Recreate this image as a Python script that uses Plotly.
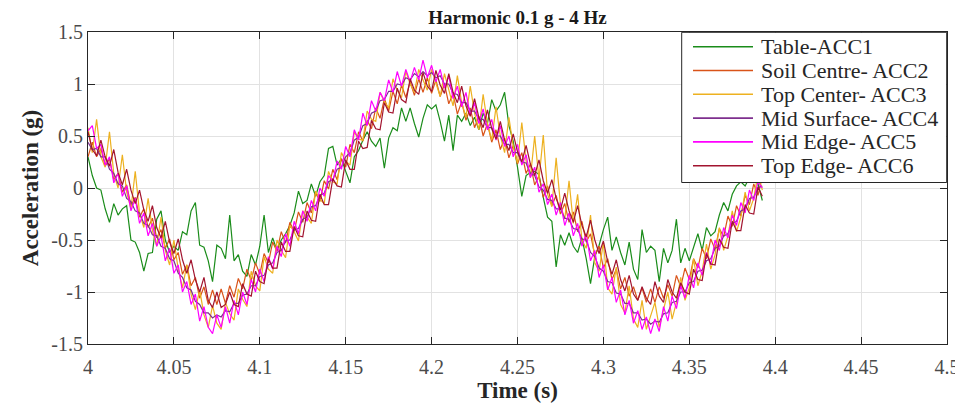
import plotly.graph_objects as go

# ---------------- data ----------------
T_START = 4.0
T_STEP = 0.0025  # sampling interval of the estimated readings (s)

acc1_table = [
    0.30, 0.12, 0.00, -0.02, -0.20, -0.33, -0.15, -0.26, -0.20, -0.17,
    -0.50, -0.52, -0.62, -0.80, -0.63, -0.62, -0.30, -0.22, -0.50, -0.62,
    -0.56, -0.60, -0.42, -0.45, -0.22, -0.14, -0.55, -0.57, -0.70, -0.90,
    -0.55, -0.58, -0.68, -0.26, -0.70, -0.64, -0.80, -0.85, -0.64, -0.74,
    -0.56, -0.26, -0.62, -0.48, -0.60, -0.50, -0.44, -0.36, -0.24, -0.03,
    -0.15, -0.12, 0.04, -0.08, 0.06, 0.12, 0.38, 0.40, 0.22, 0.28,
    0.16, 0.05, 0.30, 0.36, 0.46, 0.54, 0.45, 0.40, 0.48, 0.19,
    0.48, 0.58, 0.55, 0.77, 0.64, 0.77, 0.62, 0.49, 0.67, 0.80,
    0.76, 0.80, 0.64, 0.45, 0.70, 0.36, 0.70, 0.64, 0.72, 0.60,
    0.68, 0.56, 0.72, 0.62, 0.85, 0.74, 0.80, 0.92, 0.60, 0.45,
    0.20, -0.08, 0.12, 0.15, 0.16, 0.13, -0.09, -0.28, -0.32, -0.76,
    -0.45, -0.55, -0.43, -0.56, -0.62, -0.48, -0.68, -0.92, -0.66, -0.55,
    -0.40, -0.28, -0.60, -0.47, -0.62, -0.74, -0.52, -0.78, -0.88, -0.40,
    -0.62, -0.56, -0.60, -0.90, -0.58, -0.72, -0.60, -0.30, -0.72, -0.58,
    -0.70, -0.56, -0.44, -0.60, -0.38, -0.46, -0.42, -0.26, -0.14, -0.22,
    -0.06, 0.02, 0.06, 0.02, 0.10, 0.08, 0.04, -0.12,
]

acc2_soil_centre = [
    0.30, 0.44, 0.30, 0.38, 0.21, 0.28, 0.08, 0.14, -0.04, 0.03,
    -0.17, -0.09, -0.28, -0.20, -0.38, -0.29, -0.48, -0.40, -0.58, -0.49,
    -0.69, -0.62, -0.83, -0.74, -0.94, -0.86, -1.06, -0.95, -1.12, -0.98,
    -1.12, -0.97, -1.11, -0.94, -1.05, -0.87, -0.97, -0.78, -0.89, -0.72,
    -0.83, -0.63, -0.72, -0.52, -0.61, -0.42, -0.53, -0.33, -0.42, -0.23,
    -0.33, -0.14, -0.24, -0.04, -0.13, 0.07, -0.01, 0.18, 0.08, 0.28,
    0.20, 0.42, 0.34, 0.54, 0.45, 0.65, 0.57, 0.77, 0.67, 0.86,
    0.74, 0.93, 0.81, 0.99, 0.87, 1.02, 0.89, 1.05, 0.92, 1.06,
    0.91, 1.04, 0.88, 1.00, 0.81, 0.91, 0.71, 0.83, 0.65, 0.77,
    0.58, 0.69, 0.50, 0.62, 0.44, 0.56, 0.37, 0.48, 0.29, 0.41,
    0.23, 0.34, 0.14, 0.23, 0.03, 0.12, -0.09, 0.02, -0.17, -0.07,
    -0.25, -0.15, -0.33, -0.23, -0.42, -0.32, -0.52, -0.44, -0.65, -0.56,
    -0.77, -0.68, -0.88, -0.78, -0.97, -0.86, -1.04, -0.95, -1.08, -0.96,
    -1.10, -0.97, -1.10, -0.95, -1.06, -0.93, -1.04, -0.84, -0.95, -0.77,
    -0.88, -0.68, -0.77, -0.58, -0.68, -0.49, -0.59, -0.39, -0.47, -0.27,
    -0.37, -0.17, -0.27, -0.07, -0.16, 0.04, -0.07, 0.12,
]

acc3_top_center = [
    0.58, 0.34, 0.66, 0.30, 0.20, 0.54, 0.14, 0.00, 0.32, -0.04,
    -0.20, 0.16, -0.24, -0.38, -0.10, -0.41, -0.56, -0.28, -0.60, -0.74,
    -0.50, -0.78, -0.96, -0.74, -1.02, -1.17, -0.98, -1.22, -1.34, -1.13,
    -1.30, -1.36, -1.10, -1.21, -1.27, -0.97, -1.07, -1.14, -0.80, -0.94,
    -0.99, -0.66, -0.78, -0.82, -0.50, -0.60, -0.67, -0.36, -0.42, -0.51,
    -0.22, -0.28, -0.34, -0.03, -0.11, -0.15, 0.16, 0.06, 0.04, 0.34,
    0.26, 0.22, 0.54, 0.47, 0.46, 0.74, 0.66, 0.64, 0.92, 0.83,
    0.77, 1.05, 0.94, 0.87, 1.12, 1.00, 0.92, 1.14, 1.04, 0.94,
    1.14, 1.02, 0.88, 1.10, 0.94, 0.79, 1.08, 0.82, 0.68, 0.98,
    0.72, 0.56, 0.90, 0.62, 0.46, 0.78, 0.50, 0.34, 0.68, 0.40,
    0.24, 0.63, 0.26, 0.10, 0.50, 0.08, 0.51, -0.06, -0.18, 0.29,
    -0.16, -0.30, 0.07, -0.34, -0.06, -0.50, -0.58, -0.26, -0.72, -0.80,
    -0.52, -0.96, -1.02, -0.76, -1.12, -1.20, -0.94, -1.26, -1.34, -1.08,
    -1.36, -1.24, -1.10, -1.34, -1.18, -1.00, -1.26, -1.10, -0.86, -1.08,
    -0.96, -0.68, -0.94, -0.80, -0.54, -0.78, -0.64, -0.38, -0.60, -0.46,
    -0.22, -0.42, -0.28, -0.04, -0.22, -0.10, 0.14, -0.02,
]

acc4_mid_surface = [
    0.44, 0.37, 0.38, 0.30, 0.30, 0.18, 0.14, 0.04, 0.02, -0.10,
    -0.13, -0.22, -0.24, -0.34, -0.36, -0.45, -0.46, -0.56, -0.58, -0.68,
    -0.70, -0.82, -0.86, -0.96, -0.98, -1.09, -1.12, -1.20, -1.20, -1.25,
    -1.22, -1.24, -1.18, -1.19, -1.11, -1.11, -1.03, -1.02, -0.94, -0.94,
    -0.85, -0.84, -0.74, -0.72, -0.62, -0.60, -0.51, -0.50, -0.40, -0.39,
    -0.30, -0.28, -0.18, -0.17, -0.07, -0.05, 0.06, 0.08, 0.18, 0.20,
    0.30, 0.34, 0.46, 0.49, 0.60, 0.62, 0.72, 0.74, 0.84, 0.85,
    0.93, 0.93, 1.00, 0.99, 1.06, 1.04, 1.10, 1.07, 1.12, 1.08,
    1.11, 1.06, 1.08, 1.00, 1.00, 0.91, 0.90, 0.82, 0.82, 0.74,
    0.74, 0.66, 0.66, 0.58, 0.58, 0.50, 0.50, 0.42, 0.42, 0.34,
    0.34, 0.25, 0.24, 0.14, 0.12, 0.01, -0.02, -0.11, -0.12, -0.20,
    -0.20, -0.29, -0.30, -0.39, -0.40, -0.49, -0.50, -0.62, -0.66, -0.77,
    -0.80, -0.90, -0.91, -1.01, -1.02, -1.11, -1.11, -1.20, -1.20, -1.27,
    -1.26, -1.31, -1.28, -1.29, -1.21, -1.20, -1.10, -1.09, -1.00, -1.00,
    -0.91, -0.90, -0.80, -0.79, -0.70, -0.68, -0.58, -0.56, -0.46, -0.44,
    -0.34, -0.32, -0.22, -0.20, -0.10, -0.09, 0.00, 0.02,
]

acc5_mid_edge = [
    0.55, 0.60, 0.38, 0.42, 0.22, 0.30, 0.05, 0.14, -0.08, 0.02,
    -0.22, -0.10, -0.34, -0.24, -0.46, -0.34, -0.56, -0.46, -0.70, -0.58,
    -0.82, -0.74, -1.00, -0.90, -1.12, -1.02, -1.28, -1.14, -1.34, -1.40,
    -1.22, -1.34, -1.14, -1.30, -1.08, -1.22, -1.00, -1.12, -0.88, -1.00,
    -0.78, -0.90, -0.66, -0.78, -0.56, -0.66, -0.44, -0.56, -0.32, -0.44,
    -0.22, -0.32, -0.12, -0.22, 0.00, -0.08, 0.12, 0.06, 0.26, 0.18,
    0.40, 0.30, 0.56, 0.46, 0.72, 0.60, 0.84, 0.74, 0.92, 0.84,
    1.04, 0.92, 1.12, 0.98, 1.14, 1.02, 1.16, 1.04, 1.23, 1.06,
    1.18, 1.02, 1.14, 0.96, 1.08, 0.86, 0.98, 0.78, 0.92, 0.70,
    0.82, 0.62, 0.76, 0.56, 0.66, 0.46, 0.60, 0.40, 0.50, 0.30,
    0.42, 0.22, 0.32, 0.10, 0.20, -0.04, 0.04, -0.16, -0.06, -0.26,
    -0.14, -0.36, -0.24, -0.46, -0.34, -0.56, -0.44, -0.70, -0.60, -0.86,
    -0.74, -0.98, -0.86, -1.10, -0.98, -1.22, -1.08, -1.30, -1.18, -1.36,
    -1.24, -1.40, -1.26, -1.38, -1.14, -1.28, -1.04, -1.16, -0.94, -1.06,
    -0.84, -0.96, -0.72, -0.84, -0.62, -0.74, -0.50, -0.60, -0.38, -0.48,
    -0.26, -0.36, -0.14, -0.24, -0.02, -0.12, 0.06, 0.00,
]

acc6_top_edge = [
    0.54, 0.37, 0.31, 0.46, 0.30, 0.21, 0.37, 0.15, 0.03, 0.18,
    -0.02, -0.15, -0.02, -0.21, -0.32, -0.17, -0.38, -0.48, -0.32, -0.52,
    -0.63, -0.49, -0.69, -0.82, -0.69, -0.88, -1.00, -0.86, -1.08, -1.15,
    -1.00, -1.15, -1.12, -1.00, -1.12, -1.14, -0.92, -1.02, -1.04, -0.80,
    -0.90, -0.92, -0.68, -0.77, -0.77, -0.52, -0.61, -0.61, -0.37, -0.46,
    -0.47, -0.22, -0.31, -0.32, -0.06, -0.16, -0.16, 0.09, 0.02, 0.01,
    0.27, 0.18, 0.18, 0.45, 0.38, 0.39, 0.65, 0.57, 0.56, 0.82,
    0.73, 0.72, 0.96, 0.85, 0.82, 1.05, 0.94, 0.90, 1.11, 0.98,
    0.93, 1.13, 0.99, 0.91, 1.10, 0.92, 0.82, 0.98, 0.79, 0.69,
    0.86, 0.68, 0.58, 0.75, 0.57, 0.47, 0.64, 0.46, 0.36, 0.52,
    0.35, 0.25, 0.41, 0.23, 0.12, 0.27, 0.07, -0.05, 0.08, -0.10,
    -0.21, -0.05, -0.22, -0.33, -0.17, -0.36, -0.47, -0.31, -0.50, -0.63,
    -0.51, -0.71, -0.83, -0.69, -0.88, -0.99, -0.84, -1.02, -1.08, -0.95,
    -1.06, -1.12, -0.90, -1.04, -1.10, -0.88, -1.00, -1.06, -0.91, -1.00,
    -1.02, -0.78, -0.88, -0.89, -0.63, -0.73, -0.74, -0.49, -0.57, -0.58,
    -0.32, -0.41, -0.41, -0.16, -0.24, -0.25, 0.01, -0.08,
]

series_names = ["Table-ACC1", "Soil Centre- ACC2", "Top Center- ACC3",
                "Mid Surface- ACC4", "Mid Edge- ACC5", "Top Edge- ACC6"]
series_values = [acc1_table, acc2_soil_centre, acc3_top_center,
                 acc4_mid_surface, acc5_mid_edge, acc6_top_edge]
series_colors = ["#1a8c1a", "#D95319", "#EDB120", "#7E2F8E", "#FF00FF", "#A2142F"]

x_tick_values = [4.0, 4.05, 4.1, 4.15, 4.2, 4.25, 4.3, 4.35, 4.4, 4.45, 4.5]
x_tick_labels = ["4", "4.05", "4.1", "4.15", "4.2", "4.25", "4.3", "4.35", "4.4", "4.45", "4.5"]
y_tick_values = [-1.5, -1.0, -0.5, 0.0, 0.5, 1.0, 1.5]
y_tick_labels = ["-1.5", "-1", "-0.5", "0", "0.5", "1", "1.5"]

title_text = "Harmonic 0.1 g - 4 Hz"
x_title = "Time (s)"
y_title = "Acceleration (g)"

# ---------------- layout geometry ----------------
# The page body adds an 8 px offset, so the figure is 8 px smaller and
# screen positions (in px of the 963x403 window) are converted accordingly.
OFF = 8
WIN_W, WIN_H = 963, 403
W, H = WIN_W - OFF, WIN_H - OFF
PLOT_L, PLOT_R, PLOT_T, PLOT_B = 88, 947, 32, 344   # window pixels
ML, MT = PLOT_L - OFF, PLOT_T - OFF
MR, MB = W - (PLOT_R - OFF), H - (PLOT_B - OFF)
PW, PH = PLOT_R - PLOT_L, PLOT_B - PLOT_T
SERIF = "Liberation Serif, Times New Roman, serif"
AXIS_COLOR = "#262626"


def px_x(p):
    return (p - PLOT_L) / PW


def px_y(p):
    return (PLOT_B - p) / PH


fig = go.Figure()
for name, vals, col in zip(series_names, series_values, series_colors):
    t = [round(T_START + T_STEP * i, 4) for i in range(len(vals))]
    fig.add_trace(go.Scatter(x=t, y=vals, mode="lines", name=name,
                             line=dict(color=col, width=1.2), showlegend=False,
                             hoverinfo="skip"))

axis_common = dict(
    showline=True, linecolor=AXIS_COLOR, linewidth=1, mirror="ticks",
    ticks="inside", ticklen=7, tickcolor=AXIS_COLOR, tickwidth=1,
    showgrid=True, gridcolor="#e2e2e2", gridwidth=1, zeroline=False,
    tickfont=dict(family=SERIF, size=20, color="#4a4a4a"),
    automargin=False,
)

fig.update_layout(
    width=W, height=H,
    margin=dict(l=ML, r=MR, t=MT, b=MB, pad=0),
    paper_bgcolor="white", plot_bgcolor="white",
    title=dict(text="<b>" + title_text + "</b>", xref="paper", x=0.5,
               xanchor="center", y=1 - (17 - OFF) / H, yanchor="middle",
               font=dict(family=SERIF, size=19, color="#1a1a1a")),
    xaxis=dict(range=[4.0, 4.5], tickvals=x_tick_values, ticktext=x_tick_labels,
               ticklabelstandoff=5,
               title=dict(text="<b>" + x_title + "</b>", standoff=2,
                          font=dict(family=SERIF, size=23, color="#262626")),
               **axis_common),
    yaxis=dict(range=[-1.5, 1.5], tickvals=y_tick_values, ticktext=y_tick_labels,
               title=dict(text="<b>" + y_title + "</b>", standoff=6,
                          font=dict(family=SERIF, size=23, color="#262626")),
               **axis_common),
    showlegend=False,
)

# ---------------- legend box (drawn over the lines like the original) ----------------
shapes = [dict(type="rect", xref="paper", yref="paper",
               x0=px_x(681.7), x1=px_x(946.7), y0=px_y(182.5), y1=px_y(32.3),
               line=dict(color=AXIS_COLOR, width=1), fillcolor="white", layer="above")]
annotations = []
for k, (name, col) in enumerate(zip(series_names, series_colors)):
    yy = px_y(46.7 + 23.8 * k)
    shapes.append(dict(type="line", xref="paper", yref="paper",
                       x0=px_x(693), x1=px_x(753), y0=yy, y1=yy,
                       line=dict(color=col, width=1.6), layer="above"))
    annotations.append(dict(xref="paper", yref="paper", x=px_x(758.5), y=yy,
                            xanchor="left", yanchor="middle", showarrow=False,
                            text=name, font=dict(family=SERIF, size=22, color="#262626")))
fig.update_layout(shapes=shapes, annotations=annotations)

fig.write_html("out.html")
